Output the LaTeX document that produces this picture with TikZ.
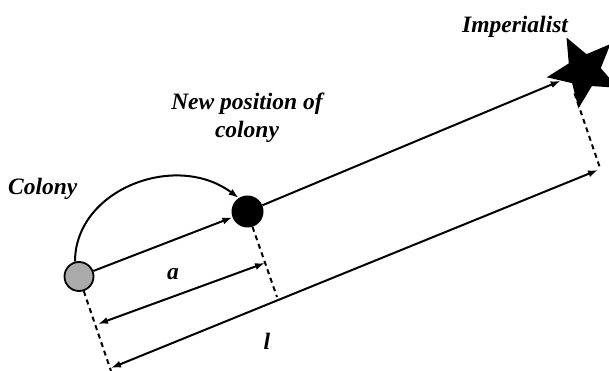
\documentclass[tikz,border=0pt]{standalone}
\usepackage{fontspec}
\setmainfont{Liberation Serif}
\usetikzlibrary{shapes.geometric,arrows.meta}
\begin{document}
\begin{tikzpicture}[x=1pt,y=1pt,
  line/.style={line width=2pt},
  arr/.style={line, -{Latex[length=10pt,width=7pt]}},
  dim/.style={line, {Latex[length=10pt,width=7pt]}-{Latex[length=10pt,width=7pt]}},
  dashline/.style={line width=2pt, dash pattern=on 5pt off 4pt},
  lab/.style={font=\fontsize{23.5}{28}\selectfont\bfseries\itshape, inner sep=0pt},
  ]
\useasboundingbox (0,0) rectangle (609,371);
\node[circle, draw, line width=1.8pt, fill=black!33, minimum size=29pt, inner sep=0pt] (C) at (79,94.5) {};
\node[circle, fill=black, minimum size=32pt, inner sep=0pt] (N) at (247.5,159.5) {};
\node[star, star points=5, star point ratio=0.45, minimum size=34pt, inner sep=0pt, fill=black, shape border rotate=-8.4] (S) at (584,300) {};
\coordinate (a1) at (98,47);
\coordinate (a2) at (265,108);
\coordinate (l1) at (111,3);
\coordinate (l2) at (598,201);
\coordinate (dc) at (111,0);
\coordinate (dn) at (277,74);
\coordinate (ds) at (600,203);
\draw[arr] (C) -- (N);
\draw[arr] (N) -- (S);
\draw[arr] (C.105) .. controls +(0,72) and +(-63,47) .. (N.123);
\draw[dim] (a1) -- (a2);
\draw[dim] (l1) -- (l2);
\draw[dashline] (C.-72) -- (dc);
\draw[dashline] (N.-72) -- (dn);
\draw[dashline] (S.247) -- (ds);
\node[lab, anchor=base west] (tC) at (8,176) {Colony};
\node[lab, align=center] (tN) at (247,253.5) {New position of\\colony};
\node[lab, anchor=base west] (tI) at (462,338) {Imperialist};
\node[lab, anchor=base] (ta) at (173,91) {a};
\node[lab, anchor=base] (tl) at (267,21) {l};
\end{tikzpicture}
\end{document}
